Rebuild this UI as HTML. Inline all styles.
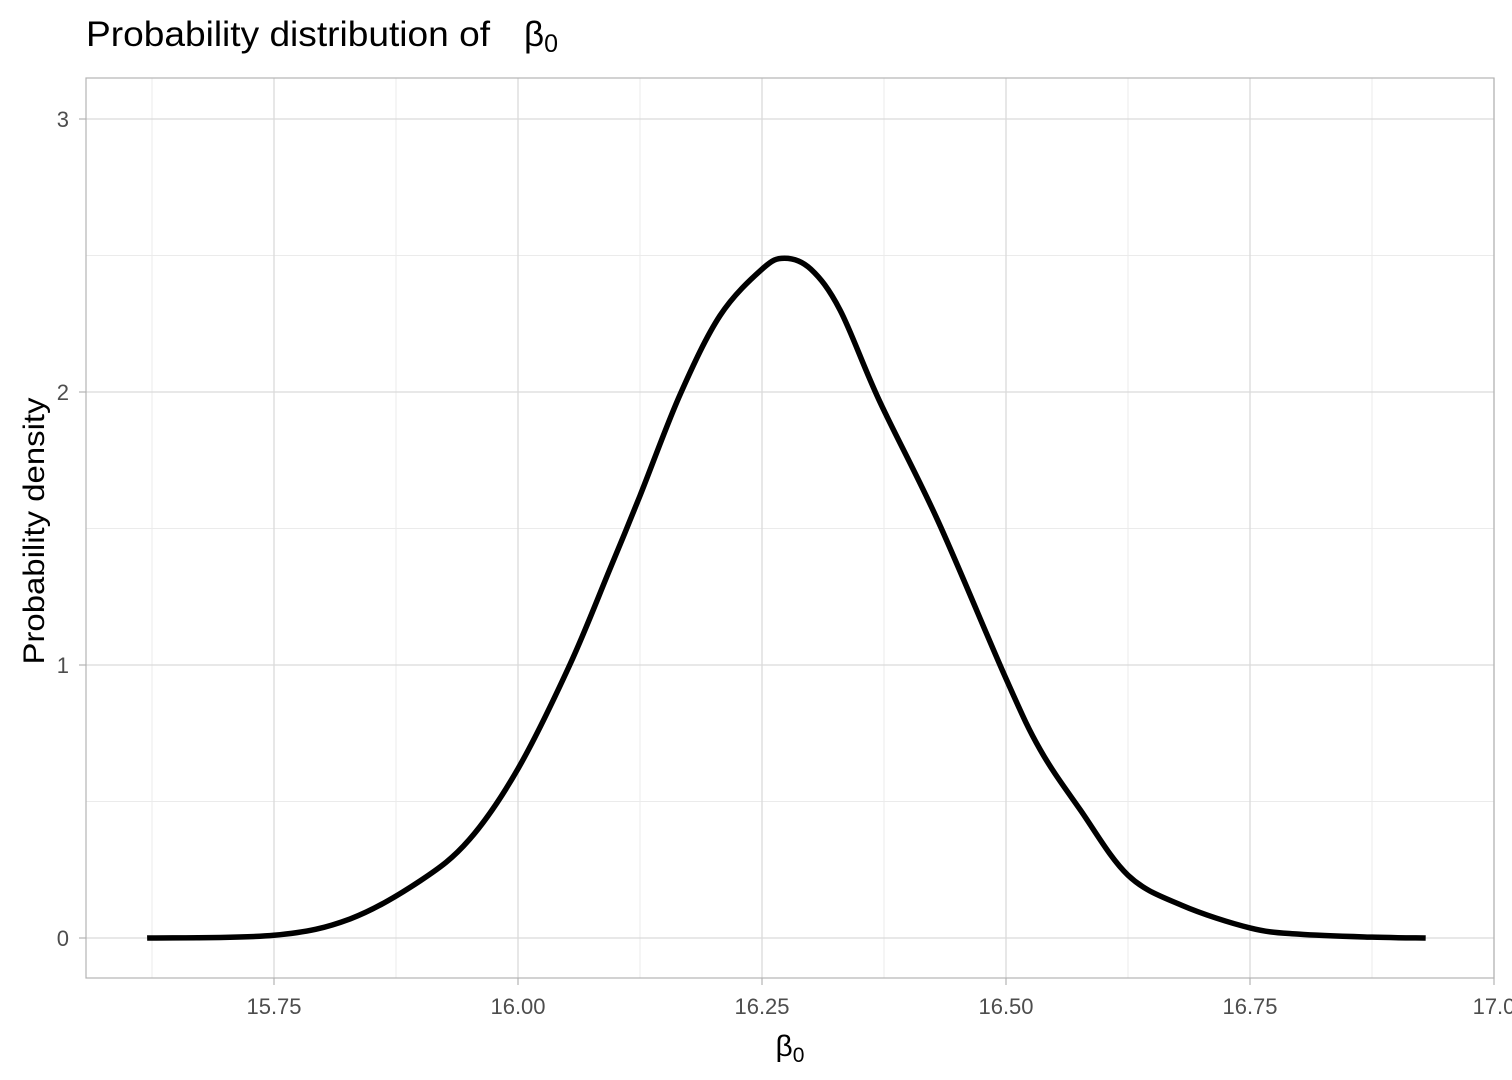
<!DOCTYPE html>
<html><head><meta charset="utf-8"><style>
html,body{margin:0;padding:0;background:#fff;width:1512px;height:1080px;overflow:hidden}
svg{display:block;font-family:"Liberation Sans",Arial,sans-serif}
</style></head><body>
<svg id="chart" width="1512" height="1080">
<text x="86" y="46" font-size="35" fill="#000"><tspan textLength="404" lengthAdjust="spacingAndGlyphs">Probability distribution of</tspan><tspan x="524" font-size="35">β</tspan><tspan font-size="25" dy="6">0</tspan></text>
<g id="grid"></g>
<path id="curve" fill="none" stroke="#000" stroke-width="5.5" stroke-linejoin="round" stroke-linecap="butt"></path>
<rect x="86" y="78" width="1408" height="900" fill="none" stroke="#b3b3b3" stroke-width="1.2"></rect>
<g id="ticks"></g>
<text x="790" y="1056" font-size="30" text-anchor="middle">β<tspan font-size="21" dy="6">0</tspan></text>
<text transform="translate(44,531) rotate(-90)" font-size="30" text-anchor="middle" textLength="267" lengthAdjust="spacingAndGlyphs">Probability density</text>
</svg>
<script>
const xValues=[15.62,15.75,15.828,15.90,15.95,16.00,16.053,16.094,16.125,16.166,16.207,16.25,16.273,16.30,16.33,16.37,16.43,16.50,16.535,16.576,16.625,16.68,16.75,16.80,16.875,16.93];
const densityValues=[0,0.01,0.07,0.21,0.36,0.62,1.0,1.35,1.62,1.99,2.28,2.45,2.49,2.45,2.30,1.97,1.53,0.95,0.69,0.47,0.23,0.12,0.037,0.014,0.003,0];
const xTicks=[15.75,16.00,16.25,16.50,16.75,17.0];
const xTickLabels=["15.75","16.00","16.25","16.50","16.75","17.0"];
const xMinor=[15.625,15.875,16.125,16.375,16.625,16.875];
const yTicks=[0,1,2,3];
const yMinor=[0.5,1.5,2.5];
const X=v=>518+(v-16)*976;
const Y=v=>938-v*273;
const NS="http://www.w3.org/2000/svg";
const grid=document.getElementById('grid'), ticks=document.getElementById('ticks');
function ln(p,x1,y1,x2,y2,c,w){const l=document.createElementNS(NS,'line');l.setAttribute('x1',x1);l.setAttribute('y1',y1);l.setAttribute('x2',x2);l.setAttribute('y2',y2);l.setAttribute('stroke',c);l.setAttribute('stroke-width',w);p.appendChild(l);return l;}
function tx(p,x,y,s,a){const t=document.createElementNS(NS,'text');t.setAttribute('x',x);t.setAttribute('y',y);t.setAttribute('font-size','22');t.setAttribute('fill','#4d4d4d');t.setAttribute('text-anchor',a);t.textContent=s;p.appendChild(t);return t;}
xMinor.forEach(v=>{const l=ln(grid,X(v),78,X(v),978,'#ebebeb',1);

});
yMinor.forEach(v=>{const l=ln(grid,86,Y(v),1494,Y(v),'#ebebeb',1);

});
xTicks.forEach((v,i)=>{const l=ln(grid,X(v),78,X(v),978,'#dadada',1.3);


const k=ln(ticks,X(v),978,X(v),985,'#b3b3b3',1.2);


const t=tx(ticks,X(v),1014,xTickLabels[i],'middle');

});
yTicks.forEach(v=>{const l=ln(grid,86,Y(v),1494,Y(v),'#dadada',1.3);


const k=ln(ticks,79,Y(v),86,Y(v),'#b3b3b3',1.2);


const t=tx(ticks,69,Y(v)+8,String(v),'end');

});
const P=xValues.map((x,i)=>[X(x),Y(densityValues[i])]);
let d='M'+P[0][0]+','+P[0][1];
for(let i=0;i<P.length-1;i++){const p0=P[Math.max(i-1,0)],p1=P[i],p2=P[i+1],p3=P[Math.min(i+2,P.length-1)];
const c1=[p1[0]+(p2[0]-p0[0])/6,p1[1]+(p2[1]-p0[1])/6],c2=[p2[0]-(p3[0]-p1[0])/6,p2[1]-(p3[1]-p1[1])/6];
d+=' C'+c1+' '+c2+' '+p2;}
document.getElementById('curve').setAttribute('d',d);
</script>
</body></html>
